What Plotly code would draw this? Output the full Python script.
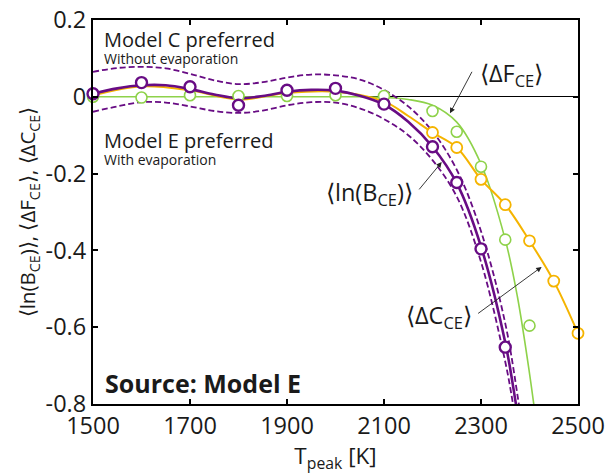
import plotly.graph_objects as go

# Colours
PURPLE = "#680c84"
ORANGE = "#f5b400"
GREEN = "#8ed24a"

# <ln(B_CE)> : computed points
lnB_T = [1500, 1600, 1700, 1800, 1900, 2000, 2100, 2200, 2250, 2300, 2350]
lnB_val = [0.008, 0.037, 0.026, -0.022, 0.017, 0.022, -0.019, -0.130, -0.223, -0.396, -0.652]

# <ln(B_CE)> : fitted curve and its uncertainty band
lnB_fit_T = [1500, 1550, 1600, 1650, 1700, 1750, 1800, 1850, 1900, 1950, 2000, 2050,
             2100, 2150, 2200, 2250, 2300, 2350, 2372, 2390]
lnB_fit = [0.008, 0.022, 0.030, 0.030, 0.020, 0.006, -0.004, 0.002, 0.013, 0.018, 0.016, 0.003,
           -0.020, -0.065, -0.130, -0.225, -0.390, -0.640, -0.800, -0.95]
lnB_hi_T = [1500, 1550, 1600, 1650, 1700, 1750, 1800, 1850, 1900, 1950, 2000, 2050,
            2100, 2150, 2200, 2250, 2300, 2350, 2378, 2395]
lnB_hi = [0.065, 0.075, 0.078, 0.074, 0.060, 0.043, 0.033, 0.038, 0.050, 0.058, 0.056, 0.045,
          0.018, -0.025, -0.090, -0.190, -0.350, -0.590, -0.800, -0.95]
lnB_lo_T = [1500, 1550, 1600, 1650, 1700, 1750, 1800, 1850, 1900, 1950, 2000, 2050,
            2100, 2150, 2200, 2250, 2300, 2350, 2366, 2385]
lnB_lo = [-0.039, -0.025, -0.014, -0.015, -0.025, -0.037, -0.042, -0.036, -0.022, -0.014, -0.015, -0.030,
          -0.058, -0.100, -0.165, -0.260, -0.430, -0.690, -0.800, -0.95]

# <dF_CE>
dF_T = [1500, 1600, 1700, 1800, 1900, 2000, 2100, 2200, 2250, 2300, 2350, 2400]
dF_val = [0.0, -0.002, 0.004, 0.002, 0.002, 0.004, 0.002, -0.037, -0.091, -0.182, -0.372, -0.596]
dF_fit_T = [1500, 1700, 1900, 2050, 2100, 2150, 2200, 2250, 2300, 2350, 2375, 2400, 2415]
dF_fit = [0.0, 0.0, 0.0, 0.0, -0.002, -0.007, -0.022, -0.066, -0.175, -0.372, -0.520, -0.720, -0.86]

# <dC_CE>
dC_T = [2200, 2250, 2300, 2350, 2400, 2450, 2500]
dC_val = [-0.093, -0.132, -0.215, -0.281, -0.375, -0.480, -0.616]
dC_line_T = [1500, 1600, 1700, 1800, 1900, 2000, 2100, 2150, 2200, 2250, 2300, 2350, 2400, 2450, 2500]
dC_line = [0.004, 0.027, 0.017, -0.007, 0.010, 0.013, -0.012, -0.050, -0.093, -0.132, -0.215,
           -0.281, -0.375, -0.480, -0.616]

# Axis ticks
x_ticks = [1500, 1700, 1900, 2100, 2300, 2500]
y_ticks = [0.2, 0, -0.2, -0.4, -0.6, -0.8]
y_ticktext = ["0.2", "0", "-0.2", "-0.4", "-0.6", "-0.8"]

FONT = "Open Sans"

fig = go.Figure()

def curve(x, y, color, width, dash="solid"):
    fig.add_trace(go.Scatter(x=x, y=y, mode="lines",
                             line=dict(color=color, width=width, dash=dash,
                                       shape="spline", smoothing=1.0),
                             hoverinfo="skip"))

def points(x, y, color, lw):
    fig.add_trace(go.Scatter(x=x, y=y, mode="markers", cliponaxis=False,
                             marker=dict(symbol="circle", size=11, color="white",
                                         line=dict(color=color, width=lw))))

# fitted curves
curve(dF_fit_T, dF_fit, GREEN, 1.6)
curve(dC_line_T, dC_line, ORANGE, 2.0)
curve(lnB_hi_T, lnB_hi, PURPLE, 1.8, dash="6px,3px")
curve(lnB_lo_T, lnB_lo, PURPLE, 1.8, dash="6px,3px")
curve(lnB_fit_T, lnB_fit, PURPLE, 2.6)

# data points
points(dF_T, dF_val, GREEN, 1.6)
points(dC_T, dC_val, ORANGE, 1.8)
points(lnB_T, lnB_val, PURPLE, 2.4)

ann = []
def text(x, y, s, size, bold=False):
    ann.append(dict(x=x, y=y, xref="x", yref="y", text=f"<b>{s}</b>" if bold else s,
                    showarrow=False, xanchor="left", yanchor="middle",
                    font=dict(family=FONT, size=size, color="#1a1a1a")))

text(1518, 0.150, "Model C preferred", 20)
text(1518, 0.100, "Without evaporation", 14)
text(1518, -0.113, "Model E preferred", 20)
text(1518, -0.162, "With evaporation", 14)
text(1520, -0.746, "Source: Model E", 25, bold=True)

def label(x, y, s):
    ann.append(dict(x=x, y=y, xref="x", yref="y", text=s, showarrow=False,
                    xanchor="center", yanchor="middle",
                    font=dict(family=FONT, size=23.5, color="#1a1a1a")))

def arrow(x0, y0, x1, y1):
    ann.append(dict(x=x1, y=y1, ax=x0, ay=y0, xref="x", yref="y", axref="x", ayref="y",
                    text="", showarrow=True, arrowhead=2, arrowsize=1.2,
                    arrowwidth=0.9, arrowcolor="#222222", standoff=0, startstandoff=0))

label(2363, 0.058, "⟨ΔF<sub>CE</sub>⟩")
arrow(2283, 0.069, 2236, -0.043)
label(2071, -0.252, "⟨ln(B<sub>CE</sub>)⟩")
arrow(2170, -0.245, 2219, -0.170)
label(2213, -0.572, "⟨ΔC<sub>CE</sub>⟩")
arrow(2291, -0.567, 2425, -0.443)

fig.update_layout(
    width=607, height=474,
    margin=dict(l=93, r=29, t=20, b=70, autoexpand=False),
    paper_bgcolor="white", plot_bgcolor="white",
    showlegend=False,
    annotations=ann,
    font=dict(family=FONT, size=21, color="#1a1a1a"),
    xaxis=dict(range=[1500, 2500], tickvals=x_ticks, ticks="inside", ticklen=5,
               tickwidth=1.5, tickcolor="black", showline=True, linecolor="black",
               linewidth=2.2, mirror="ticks", showgrid=False, zeroline=False,
               automargin=False, tickfont=dict(size=23.5),
               title=dict(text="T<sub>peak</sub> [K]", font=dict(size=22.5), standoff=2)),
    yaxis=dict(range=[-0.8, 0.2], tickvals=y_ticks, ticktext=y_ticktext, ticks="inside",
               ticklen=5, tickwidth=1.5, tickcolor="black", showline=True,
               linecolor="black", linewidth=2.2, mirror="ticks", showgrid=False,
               zeroline=True, zerolinecolor="black", zerolinewidth=1.3,
               automargin=False, tickfont=dict(size=23.5),
               title=dict(text="⟨ln(B<sub>CE</sub>)⟩, ⟨ΔF<sub>CE</sub>⟩, ⟨ΔC<sub>CE</sub>⟩",
                          font=dict(size=20.5), standoff=4)),
)

fig.write_html("out.html")
